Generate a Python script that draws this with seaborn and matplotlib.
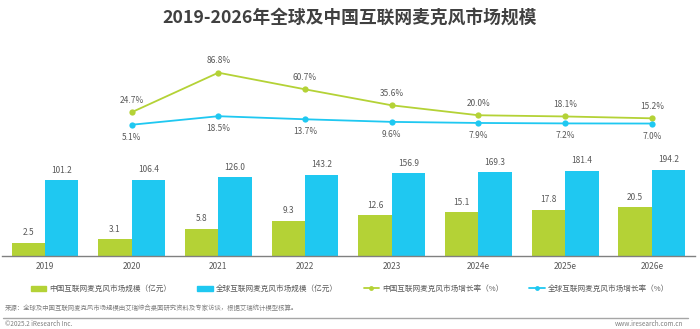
import numpy as np
import pandas as pd
import matplotlib
matplotlib.use("Agg")
import matplotlib.pyplot as plt
from matplotlib.lines import Line2D
import seaborn as sns

# Data
years = ["2019", "2020", "2021", "2022", "2023", "2024e", "2025e", "2026e"]
china_size = [2.5, 3.1, 5.8, 9.3, 12.6, 15.1, 17.8, 20.5]
global_size = [101.2, 106.4, 126.0, 143.2, 156.9, 169.3, 181.4, 194.2]
growth_years = ["2020", "2021", "2022", "2023", "2024e", "2025e", "2026e"]
china_growth = [24.7, 86.8, 60.7, 35.6, 20.0, 18.1, 15.2]
global_growth = [5.1, 18.5, 13.7, 9.6, 7.9, 7.2, 7.0]

size_names = ["中国互联网麦克风市场规模（亿元）", "全球互联网麦克风市场规模（亿元）"]
growth_names = ["中国互联网麦克风市场增长率（%）", "全球互联网麦克风市场增长率（%）"]
title = "2019-2026年全球及中国互联网麦克风市场规模"
source = "来源：全球及中国互联网麦克风市场规模由艾瑞综合桌面研究资料及专家访谈，根据艾瑞统计模型核算。"
copyright_text = "©2025.2 iResearch Inc."
site = "www.iresearch.com.cn"

GREEN = "#b4d236"
BLUE = "#1fc8f1"
TXT = "#595959"

sns.set_theme(style="white")
plt.rcParams["font.family"] = ["Noto Sans CJK SC", "DejaVu Sans"]

W, H = 700, 329
fig = plt.figure(figsize=(W / 100, H / 100), dpi=100)

def box(x0, y_top, x1, y_bot):
    return [x0 / W, 1 - y_bot / H, (x1 - x0) / W, (y_bot - y_top) / H]

# ---------- bars ----------
ax_bar = fig.add_axes(box(1.6, 150, 695.2, 256))
bars = pd.DataFrame({
    "year": years * 2,
    "value": china_size + global_size,
    "series": [size_names[0]] * len(years) + [size_names[1]] * len(years),
})
sns.barplot(data=bars, x="year", y="value", hue="series", order=years,
            hue_order=size_names, palette=[GREEN, BLUE], width=0.77, gap=0,
            saturation=1, legend=False, linewidth=0, ax=ax_bar)
ax_bar.set_yscale("log")
ax_bar.set_ylim(1.13, 621)
ax_bar.set_xlim(-0.5, len(years) - 0.5)
for cont in ax_bar.containers:
    for rect in cont:
        v = rect.get_height()
        ax_bar.annotate(f"{v:.1f}", (rect.get_x() + rect.get_width() / 2, v),
                        xytext=(0, 7), textcoords="offset points",
                        ha="center", va="center", fontsize=6, color=TXT)
ax_bar.set_xlabel("")
ax_bar.set_ylabel("")
ax_bar.set_yticks([])
ax_bar.minorticks_off()
ax_bar.tick_params(axis="x", length=0, pad=4, labelsize=6, labelcolor=TXT)
ax_bar.tick_params(axis="y", which="both", length=0, labelleft=False)
for s in ["top", "left", "right"]:
    ax_bar.spines[s].set_visible(False)
ax_bar.spines["bottom"].set_color("#808080")
ax_bar.spines["bottom"].set_linewidth(1.0)
ax_bar.patch.set_alpha(0)

# ---------- growth lines ----------
ax_line = fig.add_axes(box(1.6, 60, 695.2, 128))
pos = [years.index(y) for y in growth_years]
lines = pd.DataFrame({
    "pos": pos * 2,
    "rate": china_growth + global_growth,
    "series": [growth_names[0]] * len(pos) + [growth_names[1]] * len(pos),
})
sns.lineplot(data=lines, x="pos", y="rate", hue="series", hue_order=growth_names,
             palette=[GREEN, BLUE], marker="o", markersize=4.5, linewidth=1.3,
             markeredgewidth=0, legend=False, ax=ax_line)
ax_line.set_xlim(-0.5, len(years) - 0.5)
ax_line.set_ylim(0, 106.7)
for x, v in zip(pos, china_growth):
    ax_line.annotate(f"{v:.1f}%", (x, v), xytext=(0, 8.5), textcoords="offset points",
                     ha="center", va="center", fontsize=6, color=TXT, annotation_clip=False)
for x, v in zip(pos, global_growth):
    ax_line.annotate(f"{v:.1f}%", (x, v), xytext=(0, -9), textcoords="offset points",
                     ha="center", va="center", fontsize=6, color=TXT, annotation_clip=False)
ax_line.axis("off")

# ---------- title ----------
fig.text(0.5, 1 - 18 / H, title, ha="center", va="center", fontsize=12.8,
         fontweight="bold", color="#404040")

# ---------- legend ----------
handles = [
    plt.Rectangle((0, 0), 1, 1, color=GREEN),
    plt.Rectangle((0, 0), 1, 1, color=BLUE),
    Line2D([], [], color=GREEN, marker="o", markersize=3.5, linewidth=1.3, markeredgewidth=0),
    Line2D([], [], color=BLUE, marker="o", markersize=3.5, linewidth=1.3, markeredgewidth=0),
]
fig.legend(handles, size_names + growth_names, loc="center",
           bbox_to_anchor=(0.5, 1 - 289 / H), ncol=4, frameon=False,
           fontsize=5.5, labelcolor=TXT, handlelength=2.0, handleheight=0.6,
           handletextpad=0.4, columnspacing=3.4)

# ---------- footer ----------
fig.text(5 / W, 1 - 308 / H, source, ha="left", va="center", fontsize=4.6, color="#7f7f7f")
fig.add_artist(Line2D([3 / W, 688 / W], [1 - 318 / H] * 2, color="#a6a6a6", linewidth=1.0))
fig.text(5 / W, 1 - 324.5 / H, copyright_text, ha="left", va="center", fontsize=4.6, color="#7f7f7f")
fig.text(683 / W, 1 - 324.5 / H, site, ha="right", va="center", fontsize=4.6, color="#7f7f7f")

fig.savefig("out.png", dpi=100)
